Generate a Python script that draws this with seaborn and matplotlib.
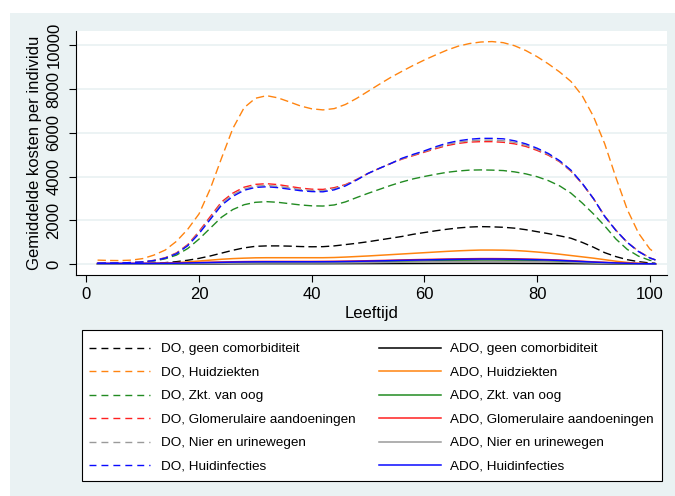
import matplotlib
matplotlib.use("Agg")
import matplotlib.pyplot as plt
import seaborn as sns
from matplotlib.patches import Rectangle
from matplotlib.lines import Line2D

plt.rcParams['font.family'] = ['Liberation Sans', 'DejaVu Sans']

# ---------------- data ----------------
ages = [2, 4, 6, 8, 10, 12, 14, 16, 18, 20,
        22, 24, 26, 28, 30, 32, 34, 36, 38, 40,
        42, 44, 46, 48, 50, 52, 54, 56, 58, 60,
        62, 64, 66, 68, 70, 72, 74, 76, 78, 80,
        82, 84, 86, 88, 90, 92, 94, 96, 98, 100, 101]

categories = ["geen comorbiditeit", "Huidziekten", "Zkt. van oog",
              "Glomerulaire aandoeningen", "Nier en urinewegen", "Huidinfecties"]

do_geen = [10, 10, 12, 18, 28, 45, 75, 120, 185, 270,
           380, 510, 640, 750, 820, 840, 840, 830, 810, 800,
           805, 840, 900, 960, 1030, 1110, 1190, 1270, 1370, 1450,
           1530, 1600, 1660, 1700, 1720, 1710, 1690, 1650, 1580, 1490,
           1400, 1300, 1190, 1000, 780, 530, 350, 210, 120, 60, 50]
do_huidz = [190, 175, 170, 190, 260, 420, 650, 1050, 1600, 2300,
            3450, 4850, 6200, 7150, 7580, 7700, 7600, 7420, 7230, 7100,
            7050, 7110, 7300, 7580, 7900, 8220, 8530, 8810, 9080, 9330,
            9560, 9780, 9960, 10080, 10150, 10170, 10120, 9980, 9760, 9480,
            9150, 8780, 8350, 7700, 6750, 5500, 3950, 2500, 1420, 700, 510]
do_oog = [40, 45, 50, 65, 95, 150, 250, 420, 720, 1150,
          1650, 2150, 2500, 2720, 2830, 2860, 2830, 2770, 2710, 2670,
          2660, 2710, 2850, 3050, 3240, 3420, 3600, 3760, 3900, 4010,
          4110, 4200, 4260, 4300, 4310, 4300, 4280, 4220, 4130, 4000,
          3820, 3580, 3250, 2800, 2300, 1750, 1150, 680, 370, 180, 150]
do_glom = [50, 55, 60, 80, 110, 180, 300, 520, 900, 1500,
           2180, 2850, 3250, 3520, 3650, 3680, 3640, 3560, 3480, 3430,
           3420, 3500, 3640, 3880, 4150, 4380, 4600, 4800, 4960, 5120,
           5280, 5420, 5520, 5580, 5600, 5600, 5570, 5500, 5380, 5200,
           4980, 4680, 4250, 3680, 3000, 2200, 1550, 1000, 600, 290, 200]
do_nier = [50, 55, 60, 80, 110, 175, 290, 500, 870, 1450,
           2100, 2780, 3170, 3440, 3570, 3600, 3560, 3490, 3410, 3370,
           3360, 3450, 3610, 3860, 4150, 4380, 4600, 4820, 4990, 5150,
           5320, 5470, 5580, 5640, 5670, 5670, 5640, 5570, 5440, 5250,
           5020, 4700, 4270, 3690, 3000, 2200, 1550, 1000, 590, 290, 200]
do_huidi = [50, 55, 60, 80, 110, 170, 280, 480, 850, 1400,
            2050, 2700, 3100, 3380, 3510, 3540, 3500, 3430, 3360, 3320,
            3310, 3400, 3580, 3850, 4150, 4380, 4600, 4840, 5020, 5180,
            5370, 5530, 5640, 5710, 5750, 5750, 5730, 5640, 5500, 5300,
            5060, 4730, 4300, 3700, 3000, 2180, 1540, 1000, 580, 290, 200]

ado_geen = [5, 5, 5, 5, 5, 6, 8, 9, 12, 15,
            18, 21, 25, 27, 29, 30, 30, 30, 30, 30,
            30, 31, 32, 33, 34, 35, 37, 38, 39, 40,
            42, 43, 44, 45, 45, 45, 44, 43, 41, 40,
            37, 35, 32, 28, 24, 20, 15, 11, 8, 6, 5]
ado_huidz = [20, 20, 20, 22, 28, 35, 50, 75, 110, 150,
             190, 230, 260, 280, 295, 300, 300, 300, 300, 300,
             300, 310, 330, 355, 380, 410, 440, 470, 500, 530,
             560, 590, 615, 635, 650, 650, 645, 630, 600, 560,
             515, 460, 400, 340, 280, 210, 140, 85, 45, 25, 20]
ado_oog = [15, 15, 15, 15, 15, 17, 18, 21, 27, 35,
           43, 52, 60, 66, 71, 75, 75, 75, 75, 75,
           77, 80, 86, 93, 100, 110, 120, 130, 140, 150,
           160, 170, 178, 185, 190, 190, 187, 180, 170, 160,
           147, 130, 110, 90, 73, 55, 40, 30, 20, 12, 10]
ado_glom = [45, 45, 45, 45, 45, 48, 52, 58, 68, 80,
            92, 103, 115, 123, 128, 130, 130, 130, 130, 130,
            132, 136, 143, 152, 162, 173, 185, 198, 210, 220,
            230, 240, 248, 255, 260, 260, 257, 250, 240, 228,
            212, 190, 165, 138, 110, 88, 66, 50, 34, 25, 22]
ado_nier = [10, 10, 10, 10, 11, 12, 15, 18, 24, 30,
            37, 44, 50, 54, 57, 60, 60, 60, 60, 60,
            61, 62, 66, 70, 75, 82, 89, 95, 102, 108,
            115, 121, 126, 130, 133, 135, 132, 128, 122, 115,
            106, 96, 85, 72, 60, 45, 32, 24, 15, 9, 8]
ado_huidi = [40, 40, 40, 40, 40, 42, 45, 50, 60, 70,
             80, 90, 100, 107, 112, 115, 115, 115, 115, 115,
             117, 120, 127, 135, 145, 155, 167, 180, 190, 200,
             210, 220, 228, 235, 240, 240, 237, 230, 220, 210,
             195, 175, 150, 125, 100, 80, 60, 45, 30, 22, 20]

do_series = [do_geen, do_huidz, do_oog, do_glom, do_nier, do_huidi]
ado_series = [ado_geen, ado_huidz, ado_oog, ado_glom, ado_nier, ado_huidi]
colors = ["#000000", "#FF8410", "#228B22", "#FF2020", "#9A9A9A", "#0A0AFF"]

xticks = [0, 20, 40, 60, 80, 100]
yticks = [0, 2000, 4000, 6000, 8000, 10000]

# ---------------- figure ----------------
W, H = 675, 496
fx = lambda px: px / W
fy = lambda py: 1 - py / H

BG = "#EAF2F3"
fig = plt.figure(figsize=(W / 100, H / 100), dpi=100, facecolor="white")
fig.patches.append(Rectangle((fx(10), 0), 1 - fx(10), fy(13), transform=fig.transFigure,
                             facecolor=BG, edgecolor="none", zorder=-5))

ax = fig.add_axes([fx(76), fy(275), fx(667) - fx(76), fy(31) - fy(275)])
ax.set_zorder(2)
ax.set_facecolor("white")

DASH = (0, (6, 3))
for vals_do, vals_ado, c in zip(do_series, ado_series, colors):
    sns.lineplot(x=ages, y=vals_do, ax=ax, color=c, linewidth=1.0, linestyle=DASH,
                 errorbar=None, zorder=3)
    sns.lineplot(x=ages, y=vals_ado, ax=ax, color=c, linewidth=1.1, linestyle="-",
                 errorbar=None, zorder=3)

ax.set_xlim(-1.83, 103.05)
ax.set_ylim(-489, 10653)
ax.set_xticks(xticks)
ax.set_yticks(yticks)
ax.set_xticklabels([str(t) for t in xticks], fontsize=12)
ax.set_yticklabels([str(t) for t in yticks], fontsize=12, rotation=90, va="center")
ax.tick_params(axis="y", length=5, width=0.8, pad=5.5, colors="#000000")
ax.tick_params(axis="x", length=5, width=0.8, pad=3.5, colors="#000000")
ax.grid(False)
ax.yaxis.grid(True, color=BG, linewidth=1.3)
ax.set_axisbelow(True)
for s in ["top", "right"]:
    ax.spines[s].set_visible(False)
for s in ["left", "bottom"]:
    ax.spines[s].set_color("#000000")
    ax.spines[s].set_linewidth(0.8)

ax.set_xlabel("Leeftijd", fontsize=12, labelpad=3)
ax.set_ylabel("Gemiddelde kosten per individu", fontsize=12)
ax.yaxis.set_label_coords(-0.058, 0.5)

# ---------------- legend ----------------
fig.patches.append(Rectangle((fx(81.7), fy(481)), fx(661.7) - fx(81.7), fy(330) - fy(481),
                             transform=fig.transFigure, facecolor="white",
                             edgecolor="#000000", linewidth=0.8, zorder=1))
row0, step = 347.7, 23.45
for i, (cat, c) in enumerate(zip(categories, colors)):
    yy = row0 + i * step
    fig.add_artist(Line2D([fx(89), fx(150)], [fy(yy), fy(yy)], color=c, linewidth=1.0,
                          linestyle=(0, (5, 3.6)), transform=fig.transFigure, zorder=2))
    fig.text(fx(160.7), fy(yy + 4.6), f"DO, {cat}", fontsize=9.7, va="baseline", ha="left", zorder=2)
    fig.add_artist(Line2D([fx(379), fx(441)], [fy(yy), fy(yy)], color=c, linewidth=1.1,
                          linestyle="-", transform=fig.transFigure, zorder=2))
    fig.text(fx(450), fy(yy + 4.6), f"ADO, {cat}", fontsize=9.7, va="baseline", ha="left", zorder=2)

fig.savefig("out.png", dpi=100, facecolor=fig.get_facecolor())
